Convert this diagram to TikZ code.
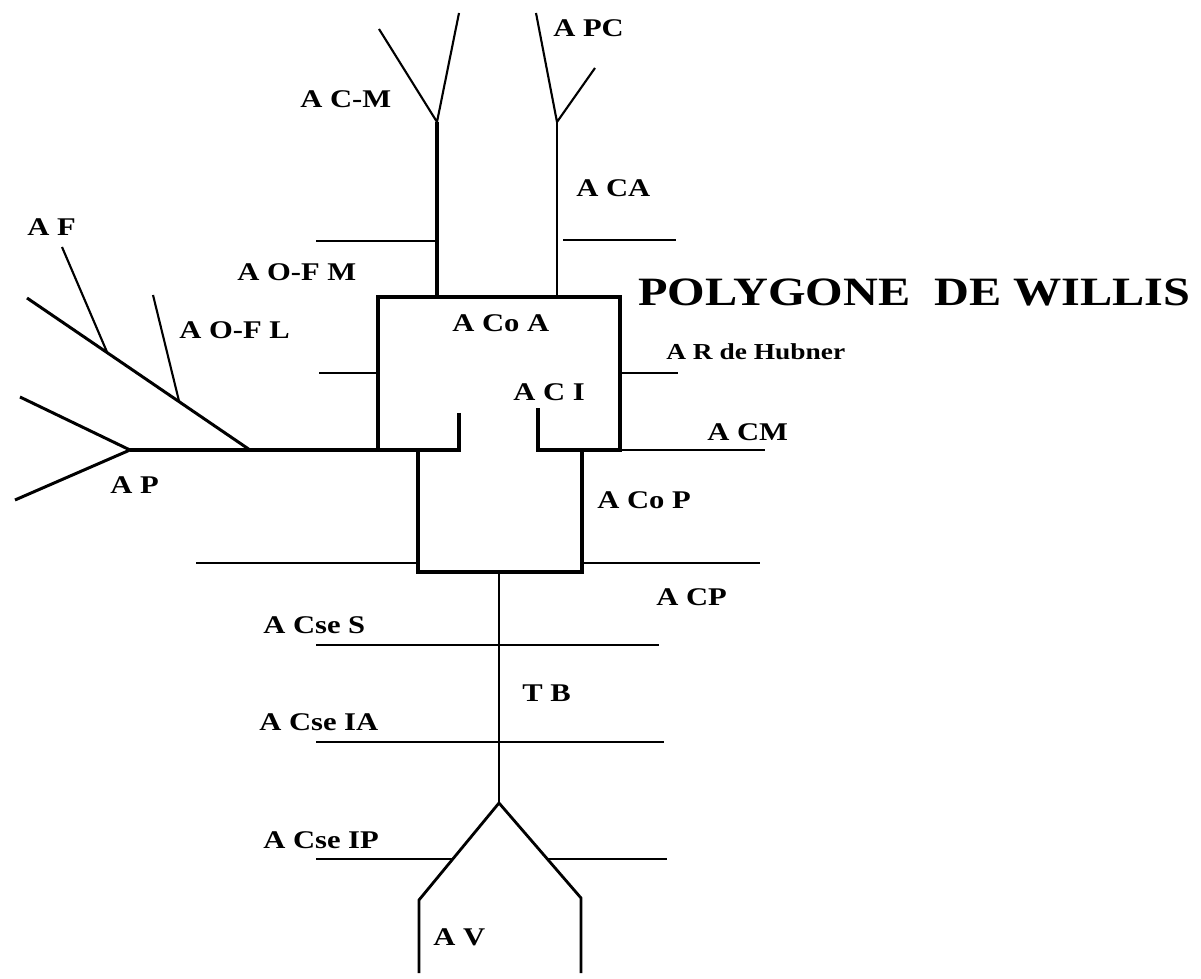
\documentclass[tikz,border=0pt]{standalone}
\usepackage{fontspec}
\newfontfamily\willisfont{Liberation Serif}[FakeStretch=1.2]
\usepackage{tikz}

\begin{document}
\begin{tikzpicture}[x=0.02cm,y=-0.02cm,
        vessel/.style={line width=1.2pt},
        trunk/.style={line width=2.3pt},
        lbl/.style={font=\willisfont\bfseries\fontsize{14.5}{16}\selectfont,inner sep=0pt,anchor=west}]
        \useasboundingbox (0,0) rectangle (1201,979);

        % points of the polygon
        \coordinate (cmfork) at (437,122);
        \coordinate (pcfork) at (557,122);
        \coordinate (cmtop) at (437,297);
        \coordinate (catop) at (557,297);
        \coordinate (pfork) at (130,450);
        \coordinate (ofork) at (250,450);
        \coordinate (afork) at (107,352);
        \coordinate (oflfork) at (179,401);
        \coordinate (tbtop) at (499,572);
        \coordinate (tbfork) at (499,803);
        \coordinate (vleft) at (419,900);
        \coordinate (vright) at (581,898);

        % carotids
        \draw[trunk] (cmfork) -- (cmtop);
        \draw[vessel,line width=1.6pt] (pcfork) -- (catop);
        \draw[vessel] (cmfork) -- (379,29) (cmfork) -- (459,13);
        \draw[vessel] (pcfork) -- (536,13) (pcfork) -- (595,68);
        \draw[vessel] (316,241) -- (437,241) (563,240) -- (676,240);

        % anterior polygon
        \draw[trunk] (459,413) -- (459,450) -- (378,450) -- (378,297)
          -- (620,297) -- (620,450) -- (538,450) -- (538,408);
        \draw[vessel] (319,373) -- (378,373) (620,373) -- (678,373);
        \draw[vessel] (620,450) -- (765,450);

        % A P and its branches
        \draw[trunk] (pfork) -- (378,450);
        \draw[vessel,line width=1.7pt] (27,298) -- (ofork);
        \draw[vessel,line width=1.7pt] (20,397) -- (pfork) -- (15,500);
        \draw[vessel] (afork) -- (62,247);
        \draw[vessel] (oflfork) -- (153,295);

        % posterior polygon
        \draw[trunk] (418,450) -- (418,572) -- (582,572) -- (582,450);
        \draw[vessel] (196,563) -- (418,563) (582,563) -- (760,563);

        % basilar trunk
        \draw[vessel] (tbtop) -- (tbfork);
        \draw[vessel] (316,645) -- (659,645);
        \draw[vessel] (316,742) -- (664,742);
        \draw[vessel,line width=1.6pt] (419,973) -- (vleft) -- (tbfork) -- (vright) -- (581,973);
        \draw[vessel] (316,859) -- (453,859) (547,859) -- (667,859);

        \node[lbl] (acm) at (300,99) {A C-M};
        \node[lbl] (apc) at (553,28) {A PC};
        \node[lbl] (aca) at (576,188) {A CA};
        \node[lbl] (af) at (27,227) {A F};
        \node[lbl] (aofm) at (237,272) {A O-F M};
        \node[lbl] (aofl) at (179,330) {A O-F L};
        \node[lbl] (acoa) at (452,323) {A Co A};
        \node[lbl,font=\willisfont\bfseries\fontsize{13}{15}\selectfont] (arh) at (666,352) {A R de Hubner};
        \node[lbl] (aci) at (513,392) {A C I};
        \node[lbl] (acmid) at (707,432) {A CM};
        \node[lbl] (ap) at (110,485) {A P};
        \node[lbl] (acop) at (597,500) {A Co P};
        \node[lbl] (acp) at (656,597) {A CP};
        \node[lbl] (acses) at (263,625) {A Cse S};
        \node[lbl] (tb) at (522,693) {T B};
        \node[lbl] (acseia) at (259,722) {A Cse IA};
        \node[lbl] (acseip) at (263,840) {A Cse IP};
        \node[lbl] (av) at (433,937) {A V};
        \node[lbl,font=\willisfont\bfseries\fontsize{22.9}{26}\selectfont] (title) at (638,292) {POLYGONE\ \ DE WILLIS};
\end{tikzpicture}
\end{document}
